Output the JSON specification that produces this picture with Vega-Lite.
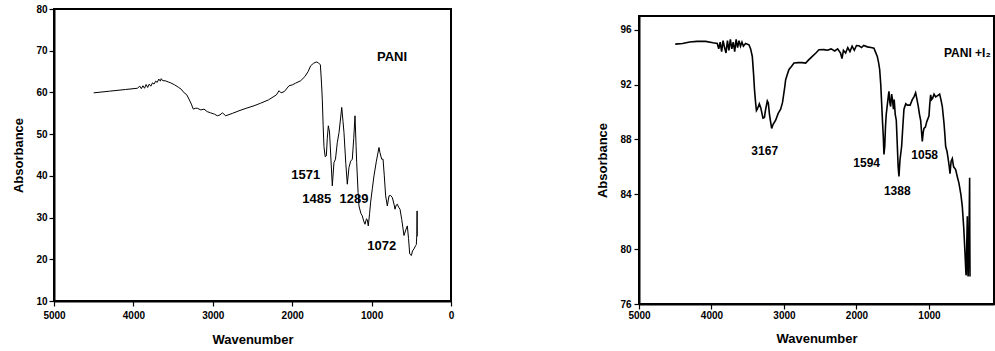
{
  "$schema": "https://vega.github.io/schema/vega-lite/v6.json",
  "background": "white",
  "padding": {"left": 11, "top": 3, "right": 0, "bottom": 0},
  "spacing": 140,
  "datasets": {
    "pani": [
      {"w":4500,"a":59.9},{"w":4300,"a":60.3},{"w":4100,"a":60.7},{"w":3950,"a":61.0},{"w":3920,"a":61.5},{"w":3900,"a":60.9},{"w":3880,"a":61.6},{"w":3860,"a":61.0},{"w":3840,"a":61.9},{"w":3820,"a":61.2},{"w":3800,"a":62.0},{"w":3780,"a":61.5},{"w":3760,"a":62.3},{"w":3740,"a":62.0},{"w":3720,"a":62.7},{"w":3700,"a":62.4},{"w":3680,"a":63.2},{"w":3660,"a":62.7},{"w":3650,"a":63.3},{"w":3630,"a":62.8},{"w":3600,"a":62.8},{"w":3560,"a":62.5},{"w":3530,"a":62.3},{"w":3480,"a":61.8},{"w":3430,"a":61.2},{"w":3400,"a":60.8},{"w":3360,"a":59.9},{"w":3330,"a":59.5},{"w":3300,"a":58.4},{"w":3270,"a":57.2},{"w":3246,"a":56.0},{"w":3220,"a":56.2},{"w":3195,"a":56.2},{"w":3150,"a":55.8},{"w":3111,"a":56.0},{"w":3070,"a":55.4},{"w":3027,"a":55.1},{"w":2980,"a":54.8},{"w":2943,"a":54.4},{"w":2910,"a":54.6},{"w":2880,"a":55.1},{"w":2860,"a":54.8},{"w":2838,"a":54.4},{"w":2750,"a":55.0},{"w":2670,"a":55.6},{"w":2580,"a":56.2},{"w":2481,"a":56.8},{"w":2400,"a":57.4},{"w":2300,"a":58.2},{"w":2200,"a":59.4},{"w":2166,"a":60.4},{"w":2140,"a":59.9},{"w":2100,"a":60.2},{"w":2040,"a":61.6},{"w":2000,"a":61.8},{"w":1960,"a":62.2},{"w":1893,"a":62.8},{"w":1840,"a":63.8},{"w":1800,"a":65.0},{"w":1767,"a":66.4},{"w":1730,"a":67.0},{"w":1697,"a":67.3},{"w":1670,"a":67.1},{"w":1645,"a":66.6},{"w":1630,"a":62.0},{"w":1621,"a":58.4},{"w":1610,"a":52.0},{"w":1600,"a":47.0},{"w":1585,"a":44.6},{"w":1570,"a":44.8},{"w":1558,"a":49.0},{"w":1545,"a":52.0},{"w":1530,"a":50.5},{"w":1515,"a":45.0},{"w":1495,"a":37.6},{"w":1474,"a":43.2},{"w":1455,"a":44.0},{"w":1432,"a":48.0},{"w":1410,"a":50.4},{"w":1376,"a":56.4},{"w":1360,"a":53.0},{"w":1348,"a":50.4},{"w":1325,"a":43.0},{"w":1306,"a":38.0},{"w":1285,"a":42.0},{"w":1264,"a":43.5},{"w":1243,"a":44.0},{"w":1225,"a":49.0},{"w":1209,"a":54.4},{"w":1195,"a":47.0},{"w":1188,"a":43.2},{"w":1170,"a":36.0},{"w":1159,"a":32.8},{"w":1135,"a":31.0},{"w":1117,"a":30.4},{"w":1100,"a":29.2},{"w":1083,"a":28.4},{"w":1065,"a":29.7},{"w":1054,"a":29.5},{"w":1042,"a":28.0},{"w":1025,"a":31.0},{"w":1012,"a":33.7},{"w":991,"a":36.9},{"w":970,"a":40.0},{"w":940,"a":43.5},{"w":907,"a":46.8},{"w":895,"a":45.6},{"w":873,"a":44.0},{"w":856,"a":44.0},{"w":840,"a":40.0},{"w":823,"a":35.2},{"w":802,"a":32.8},{"w":781,"a":35.2},{"w":760,"a":35.3},{"w":739,"a":34.8},{"w":715,"a":33.0},{"w":705,"a":32.0},{"w":690,"a":33.0},{"w":676,"a":33.2},{"w":660,"a":32.5},{"w":642,"a":32.0},{"w":620,"a":29.5},{"w":592,"a":25.7},{"w":570,"a":27.0},{"w":550,"a":28.0},{"w":535,"a":25.0},{"w":520,"a":21.3},{"w":499,"a":20.9},{"w":485,"a":22.0},{"w":466,"a":22.5},{"w":445,"a":23.3},{"w":437,"a":23.5},{"w":430,"a":26.0},{"w":427,"a":31.6},{"w":425,"a":25.5}
    ],
    "pani_labels": [
      {"w":743,"a":68.5,"t":"PANI"},
      {"w":1830,"a":40.2,"t":"1571"},
      {"w":1692,"a":34.4,"t":"1485"},
      {"w":1222,"a":34.4,"t":"1289"},
      {"w":873,"a":23.1,"t":"1072"}
    ],
    "pani_i2": [
      {"w":4500,"a":94.95},{"w":4400,"a":95.0},{"w":4300,"a":95.1},{"w":4200,"a":95.15},{"w":4080,"a":95.15},{"w":3980,"a":95.05},{"w":3920,"a":95.0},{"w":3900,"a":94.6},{"w":3880,"a":95.1},{"w":3860,"a":94.4},{"w":3840,"a":95.2},{"w":3820,"a":94.7},{"w":3800,"a":94.3},{"w":3780,"a":95.2},{"w":3760,"a":94.5},{"w":3740,"a":95.3},{"w":3720,"a":94.6},{"w":3700,"a":95.1},{"w":3680,"a":94.4},{"w":3660,"a":95.3},{"w":3640,"a":94.7},{"w":3620,"a":95.2},{"w":3600,"a":94.8},{"w":3580,"a":95.1},{"w":3560,"a":94.8},{"w":3530,"a":95.0},{"w":3483,"a":94.9},{"w":3460,"a":94.6},{"w":3437,"a":94.05},{"w":3420,"a":92.8},{"w":3405,"a":91.5},{"w":3391,"a":90.65},{"w":3380,"a":90.1},{"w":3368,"a":90.2},{"w":3340,"a":90.6},{"w":3320,"a":90.3},{"w":3290,"a":89.55},{"w":3270,"a":89.6},{"w":3253,"a":90.2},{"w":3230,"a":90.8},{"w":3216,"a":90.65},{"w":3200,"a":89.8},{"w":3185,"a":89.3},{"w":3170,"a":88.8},{"w":3150,"a":89.1},{"w":3115,"a":89.4},{"w":3080,"a":89.9},{"w":3046,"a":90.2},{"w":3020,"a":90.7},{"w":2990,"a":91.8},{"w":2977,"a":92.35},{"w":2950,"a":92.8},{"w":2931,"a":93.1},{"w":2900,"a":93.3},{"w":2862,"a":93.57},{"w":2800,"a":93.6},{"w":2750,"a":93.6},{"w":2701,"a":93.57},{"w":2660,"a":93.8},{"w":2609,"a":94.05},{"w":2560,"a":94.3},{"w":2517,"a":94.54},{"w":2450,"a":94.55},{"w":2400,"a":94.5},{"w":2350,"a":94.6},{"w":2300,"a":94.45},{"w":2260,"a":94.6},{"w":2220,"a":94.3},{"w":2200,"a":93.9},{"w":2180,"a":94.5},{"w":2150,"a":94.3},{"w":2120,"a":94.7},{"w":2090,"a":94.4},{"w":2060,"a":94.8},{"w":2030,"a":94.5},{"w":2000,"a":94.85},{"w":1966,"a":94.83},{"w":1930,"a":94.7},{"w":1900,"a":94.85},{"w":1850,"a":94.75},{"w":1800,"a":94.7},{"w":1759,"a":94.66},{"w":1740,"a":94.4},{"w":1713,"a":94.05},{"w":1695,"a":93.6},{"w":1680,"a":93.1},{"w":1665,"a":92.0},{"w":1653,"a":90.65},{"w":1640,"a":89.2},{"w":1630,"a":88.2},{"w":1621,"a":86.9},{"w":1610,"a":87.5},{"w":1600,"a":88.9},{"w":1590,"a":89.8},{"w":1575,"a":90.5},{"w":1560,"a":91.2},{"w":1552,"a":91.5},{"w":1540,"a":90.7},{"w":1529,"a":90.4},{"w":1515,"a":91.3},{"w":1506,"a":91.0},{"w":1490,"a":90.2},{"w":1480,"a":90.9},{"w":1465,"a":89.8},{"w":1451,"a":89.4},{"w":1440,"a":88.0},{"w":1425,"a":86.0},{"w":1414,"a":85.3},{"w":1400,"a":86.5},{"w":1377,"a":87.5},{"w":1360,"a":89.0},{"w":1345,"a":90.2},{"w":1320,"a":90.6},{"w":1299,"a":90.5},{"w":1260,"a":90.5},{"w":1230,"a":90.9},{"w":1207,"a":91.1},{"w":1184,"a":91.4},{"w":1165,"a":90.9},{"w":1147,"a":90.4},{"w":1130,"a":89.8},{"w":1115,"a":89.4},{"w":1092,"a":87.85},{"w":1080,"a":88.5},{"w":1069,"a":88.8},{"w":1050,"a":88.9},{"w":1030,"a":89.3},{"w":1000,"a":89.7},{"w":990,"a":90.5},{"w":977,"a":91.25},{"w":965,"a":90.9},{"w":950,"a":91.0},{"w":930,"a":91.3},{"w":908,"a":91.1},{"w":880,"a":91.2},{"w":853,"a":91.3},{"w":835,"a":90.9},{"w":816,"a":90.4},{"w":793,"a":89.2},{"w":780,"a":88.3},{"w":770,"a":87.5},{"w":750,"a":87.1},{"w":733,"a":86.5},{"w":720,"a":86.0},{"w":710,"a":85.5},{"w":695,"a":86.4},{"w":678,"a":86.6},{"w":660,"a":86.0},{"w":645,"a":85.9},{"w":632,"a":85.8},{"w":610,"a":85.3},{"w":586,"a":84.8},{"w":560,"a":84.0},{"w":540,"a":83.1},{"w":520,"a":81.5},{"w":503,"a":79.7},{"w":490,"a":78.2},{"w":485,"a":78.1},{"w":478,"a":80.5},{"w":471,"a":82.4},{"w":466,"a":80.0},{"w":460,"a":78.0},{"w":452,"a":79.5},{"w":446,"a":82.0},{"w":439,"a":85.2},{"w":437,"a":81.0},{"w":434,"a":78.0}
    ],
    "pani_i2_labels": [
      {"w":3266,"a":87.19,"t":"3167"},
      {"w":1860,"a":86.27,"t":"1594"},
      {"w":1437,"a":84.25,"t":"1388"},
      {"w":1060,"a":86.88,"t":"1058"}
    ],
    "pani_i2_title": [
      {"w":793,"a":94.3,"t":"PANI +I₂"}
    ],
    "empty": []
  },
  "hconcat": [
    {
      "width": 397,
      "height": 292,
      "layer": [
        {
          "data": {"name": "pani"},
          "mark": {"type": "line", "color": "black", "strokeWidth": 1, "clip": true},
          "encoding": {
            "x": {"field": "w", "type": "quantitative",
              "scale": {"domain": [5000, 0], "nice": false, "zero": false},
              "axis": {"title": "Wavenumber", "values": [0,1000,2000,3000,4000,5000], "format": "d", "labelFlush": false, "labelOverlap": false, "labelPadding": 4, "titlePadding": 13}},
            "y": {"field": "a", "type": "quantitative",
              "scale": {"domain": [10, 80], "nice": false, "zero": false},
              "axis": {"title": "Absorbance", "values": [10,20,30,40,50,60,70,80], "labelPadding": 2, "titlePadding": 10}}
          }
        },
        {
          "data": {"name": "pani_labels"},
          "mark": {"type": "text", "font": "Liberation Sans", "fontWeight": "bold", "fontSize": 13, "color": "black", "align": "center", "baseline": "middle"},
          "encoding": {
            "x": {"field": "w", "type": "quantitative"},
            "y": {"field": "a", "type": "quantitative"},
            "text": {"field": "t"}
          }
        }
      ]
    },
    {
      "spacing": 5,
      "vconcat": [
        {
          "width": 355,
          "height": 1,
          "view": {"stroke": null},
          "data": {"name": "empty"},
          "mark": {"type": "rule"},
          "encoding": {}
        },
        {
          "width": 355,
          "height": 288,
          "layer": [
            {
              "data": {"name": "pani_i2"},
              "mark": {"type": "line", "color": "black", "strokeWidth": 1.6, "clip": true},
              "encoding": {
                "x": {"field": "w", "type": "quantitative",
                  "scale": {"domain": [5000, 103], "nice": false, "zero": false},
                  "axis": {"title": "Wavenumber", "values": [500,1000,1500,2000,2500,3000,3500,4000,4500,5000], "labelExpr": "datum.value % 1000 === 0 ? datum.label : ''", "format": "d", "labelFlush": false, "labelOverlap": false, "labelPadding": 1, "titlePadding": 12}},
                "y": {"field": "a", "type": "quantitative",
                  "scale": {"domain": [76, 97], "nice": false, "zero": false},
                  "axis": {"title": "Absorbance", "values": [76,78,80,82,84,86,88,90,92,94,96], "labelExpr": "datum.value % 4 === 0 ? datum.label : ''", "labelPadding": 3, "titlePadding": 10}}
              }
            },
            {
              "data": {"name": "pani_i2_labels"},
              "mark": {"type": "text", "font": "Liberation Sans", "fontWeight": "bold", "fontSize": 12, "color": "black", "align": "center", "baseline": "middle"},
              "encoding": {
                "x": {"field": "w", "type": "quantitative"},
                "y": {"field": "a", "type": "quantitative"},
                "text": {"field": "t"}
              }
            },
            {
              "data": {"name": "pani_i2_title"},
              "mark": {"type": "text", "font": "Liberation Sans", "fontWeight": "bold", "fontSize": 12, "color": "black", "align": "left", "baseline": "middle"},
              "encoding": {
                "x": {"field": "w", "type": "quantitative"},
                "y": {"field": "a", "type": "quantitative"},
                "text": {"field": "t"}
              }
            }
          ]
        }
      ]
    }
  ],
  "config": {
    "view": {"stroke": "black", "strokeWidth": 2},
    "axis": {
      "grid": false,
      "domainColor": "black",
      "domainWidth": 2,
      "tickColor": "black",
      "tickWidth": 1.2,
      "tickSize": 5,
      "labelFont": "Liberation Sans",
      "labelFontWeight": "bold",
      "labelFontSize": 10,
      "labelColor": "black",
      "titleFont": "Liberation Sans",
      "titleFontWeight": "bold",
      "titleFontSize": 13,
      "titleColor": "black"
    }
  }
}
